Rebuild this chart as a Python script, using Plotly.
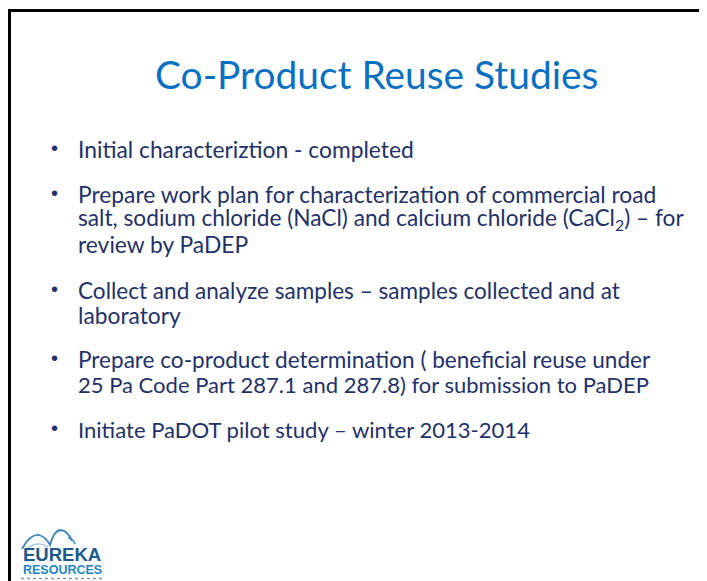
import plotly.graph_objects as go

W, H = 707, 581
PAGE_MARGIN = 8  # browser default body margin; the figure sits this far in

title_text = "Co-Product Reuse Studies"

# each bullet: list of lines
bullets = [
    ["Initial characteriztion - completed"],
    ["Prepare work plan for characterization of commercial road",
     "salt, sodium chloride (NaCl) and calcium chloride (CaCl<sub>2</sub>) \u2013 for",
     "review by PaDEP"],
    ["Collect and analyze samples \u2013 samples collected and at",
     "laboratory"],
    ["Prepare co-product determination ( beneficial reuse under",
     "25 Pa Code Part 287.1 and 287.8) for submission to PaDEP"],
    ["Initiate PaDOT pilot study \u2013 winter 2013-2014"],
]
# first-line baseline (px from top of window) of each bullet
bullet_baselines = [157, 202, 298, 367, 437]
line_gap = 25
# per-line width tweaks (font metric differences vs. the original typeface)
line_scale = [
    [1.0],
    [1.0, 0.995, 1.0],
    [0.99, 1.0],
    [0.99, 0.966],
    [0.968],
]

logo_words = ["EUREKA", "RESOURCES"]

FONT = "Lato"
TEXT_COLOR = "#22316a"
TITLE_COLOR = "#0a71c2"
FS = 22.8
TITLE_FS = 38.9

fig = go.Figure()
fig.add_trace(go.Scatter(x=[PAGE_MARGIN, W], y=[PAGE_MARGIN, H], mode="markers",
                         marker=dict(opacity=0), hoverinfo="skip", showlegend=False))

ann = []
ann.append(dict(x=376, y=88 - 0.36 * TITLE_FS, text=title_text, showarrow=False,
                xanchor="center", yanchor="middle",
                font=dict(family=FONT, size=TITLE_FS, color=TITLE_COLOR)))

for lines, base, scales in zip(bullets, bullet_baselines, line_scale):
    ann.append(dict(x=54, y=base - 9, text="\u2022", showarrow=False, xanchor="center",
                    yanchor="middle", font=dict(family="Arial", size=20, color=TEXT_COLOR)))
    for i, (ln, sc) in enumerate(zip(lines, scales)):
        ann.append(dict(x=76, y=base + i * line_gap - 0.35 * FS, text=ln, showarrow=False,
                        xanchor="left", yanchor="middle",
                        font=dict(family=FONT, size=FS * sc, color=TEXT_COLOR)))

# logo text
ann.append(dict(x=21, y=554, text="<b>" + logo_words[0] + "</b>", showarrow=False,
                xanchor="left", yanchor="middle",
                font=dict(family="Arial", size=18.5, color="#1a5a8c")))
ann.append(dict(x=21, y=569.5, text="<b>" + logo_words[1] + "</b>", showarrow=False,
                xanchor="left", yanchor="middle",
                font=dict(family="Arial", size=12.5, color="#1f86c6")))

shapes = [
    dict(type="line", x0=8, y0=10.5, x1=707, y1=10.5, line=dict(color="black", width=3)),
    dict(type="line", x0=9.5, y0=9, x1=9.5, y1=581, line=dict(color="black", width=3)),
    # logo waves
    dict(type="path", path="M 22 549 Q 30 534 39 535 Q 46 537 50 545 Q 54 530 61 530 Q 68 531 72 541",
         line=dict(color="#3a86b8", width=1.8)),
    dict(type="path", path="M 68 538 Q 73 538 75 544", line=dict(color="#3a86b8", width=1.5)),
    dict(type="path", path="M 26 549 Q 38 540 48 547", line=dict(color="#9cc5e0", width=1.2)),
    dict(type="line", x0=21, y0=578.5, x1=102, y1=578.5, line=dict(color="#6d9cc2", width=1.5, dash="dot")),
]

fig.update_layout(
    width=W - PAGE_MARGIN, height=H - PAGE_MARGIN, margin=dict(l=0, r=0, t=0, b=0),
    paper_bgcolor="white", plot_bgcolor="white",
    xaxis=dict(range=[PAGE_MARGIN, W], visible=False, fixedrange=True),
    yaxis=dict(range=[H, PAGE_MARGIN], visible=False, fixedrange=True),
    annotations=ann, shapes=shapes, showlegend=False,
)
fig.write_html("out.html")
